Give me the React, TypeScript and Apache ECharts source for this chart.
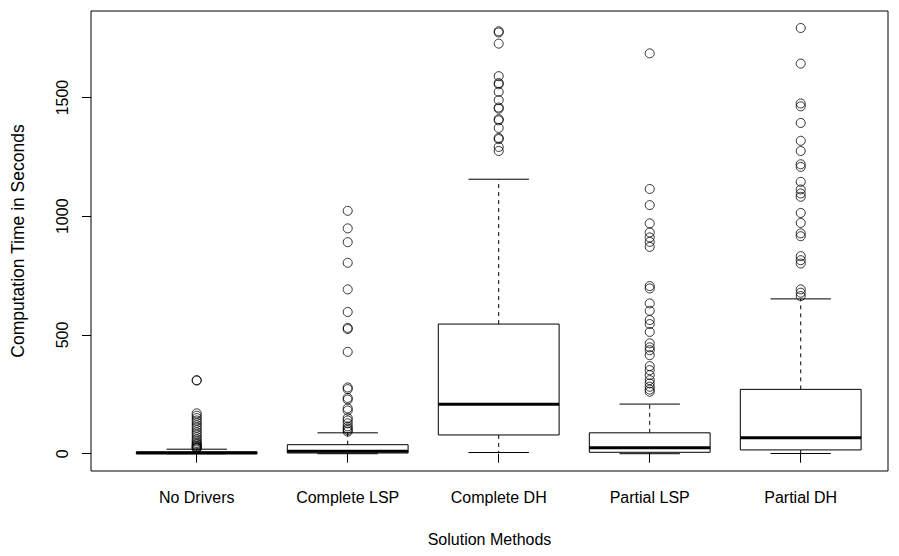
import React, { useEffect, useRef } from "react";
import * as echarts from "echarts";

const categories = ["No Drivers", "Complete LSP", "Complete DH", "Partial LSP", "Partial DH"];

// [lower whisker, Q1, median, Q3, upper whisker]
const boxStats = [
  [0, 1, 3, 8, 19],
  [0, 3, 10, 38, 88],
  [5, 79, 208, 546, 1156],
  [0, 6, 25, 88, 209],
  [1, 16, 67, 271, 652],
];

const outliersNoDrivers = [310, 308, 170, 160, 150, 140, 130, 120, 110, 100, 90, 80, 70, 60, 52, 45, 40, 35, 30, 27, 24, 22];
const outliersCompleteLSP = [1023, 949, 891, 804, 692, 597, 530, 525, 429, 279, 272, 235, 228, 191, 182, 150, 140, 128, 115, 107, 100, 93];
const outliersCompleteDH = [1779, 1774, 1727, 1590, 1561, 1556, 1524, 1489, 1458, 1453, 1409, 1404, 1372, 1330, 1325, 1292, 1275];
const outliersPartialLSP = [1686, 1115, 1047, 970, 932, 911, 892, 871, 706, 696, 633, 602, 563, 546, 513, 465, 448, 436, 415, 369, 352, 331, 310, 296, 282, 270, 261];
const outliersPartialDH = [1793, 1643, 1475, 1463, 1393, 1318, 1275, 1219, 1208, 1145, 1113, 1096, 1082, 1014, 972, 928, 916, 832, 815, 801, 692, 678, 664];

const yTicks = [0, 500, 1000, 1500];

const FONT = "'Liberation Sans', Arial, Helvetica, sans-serif";

export default function App() {
  const ref = useRef<HTMLDivElement>(null);

  useEffect(() => {
    document.body.style.margin = "0";
    if (!ref.current) return;
    const chart = echarts.init(ref.current, null, { renderer: "svg" });

    const outlierGroups = [outliersNoDrivers, outliersCompleteLSP, outliersCompleteDH, outliersPartialLSP, outliersPartialDH];
    const outlierData: number[][] = [];
    outlierGroups.forEach((g, i) => g.forEach((v) => outlierData.push([i + 1, v])));

    const boxData = boxStats.map((s, i) => [i + 1, ...s]);
    const catPos = categories.map((_, i) => i + 1);

    const option: any = {
      animation: false,
      backgroundColor: "#fff",
      textStyle: { fontFamily: FONT },
      grid: {
        left: 91,
        top: 11,
        width: 797,
        height: 460,
        show: true,
        borderColor: "#000",
        borderWidth: 1,
        backgroundColor: "transparent",
        containLabel: false,
      },
      xAxis: {
        type: "value",
        min: 0.3,
        max: 5.578,
        axisLine: { show: false },
        splitLine: { show: false },
        axisTick: { show: true, inside: false, length: 9, customValues: catPos, lineStyle: { color: "#000" } },
        axisLabel: {
          show: true,
          customValues: catPos,
          formatter: (v: number) => categories[Math.round(v) - 1] ?? "",
          color: "#000",
          fontSize: 16,
          fontFamily: FONT,
          margin: 18,
        },
        name: "Solution Methods",
        nameLocation: "middle",
        nameGap: 60,
        nameTextStyle: { color: "#000", fontSize: 16, fontFamily: FONT },
      },
      yAxis: {
        type: "value",
        min: -72.8,
        max: 1864.5,
        axisLine: { show: false },
        splitLine: { show: false },
        axisTick: { show: true, inside: false, length: 9, customValues: yTicks, lineStyle: { color: "#000" } },
        axisLabel: {
          show: true,
          customValues: yTicks,
          formatter: (v: number) => String(v),
          rotate: 90,
          color: "#000",
          fontSize: 16,
          fontFamily: FONT,
          margin: 21,
        },
        name: "Computation Time in Seconds",
        nameLocation: "middle",
        nameGap: 64,
        nameTextStyle: { color: "#000", fontSize: 17.5, fontFamily: FONT },
      },
      series: [
        {
          type: "custom",
          data: boxData,
          encode: { x: 0, y: [1, 2, 3, 4, 5] },
          renderItem: (params: any, api: any) => {
            const x = api.value(0);
            const lo = api.value(1);
            const q1 = api.value(2);
            const med = api.value(3);
            const q3 = api.value(4);
            const hi = api.value(5);
            const halfBox = api.size([0.8, 0])[0] / 2;
            const halfStaple = halfBox / 2;
            const pLo = api.coord([x, lo]);
            const pQ1 = api.coord([x, q1]);
            const pMed = api.coord([x, med]);
            const pQ3 = api.coord([x, q3]);
            const pHi = api.coord([x, hi]);
            const cx = pMed[0];
            const dashStyle = { stroke: "#000", lineWidth: 1, lineDash: [4, 4] };
            const solid = { stroke: "#000", lineWidth: 1 };
            return {
              type: "group",
              children: [
                { type: "line", shape: { x1: cx, y1: pQ3[1], x2: cx, y2: pHi[1] }, style: dashStyle },
                { type: "line", shape: { x1: cx, y1: pQ1[1], x2: cx, y2: pLo[1] }, style: dashStyle },
                { type: "line", shape: { x1: cx - halfStaple, y1: pHi[1], x2: cx + halfStaple, y2: pHi[1] }, style: solid },
                { type: "line", shape: { x1: cx - halfStaple, y1: pLo[1], x2: cx + halfStaple, y2: pLo[1] }, style: solid },
                {
                  type: "rect",
                  shape: { x: cx - halfBox, y: pQ3[1], width: halfBox * 2, height: pQ1[1] - pQ3[1] },
                  style: { fill: "#fff", stroke: "#000", lineWidth: 1 },
                },
                { type: "line", shape: { x1: cx - halfBox, y1: pMed[1], x2: cx + halfBox, y2: pMed[1] }, style: { stroke: "#000", lineWidth: 3 } },
              ],
            };
          },
          z: 2,
        },
        {
          type: "scatter",
          data: outlierData,
          symbol: "circle",
          symbolSize: 9,
          itemStyle: { color: "rgba(0,0,0,0)", borderColor: "#000", borderWidth: 1 },
          z: 3,
        },
      ],
    };

    chart.setOption(option);
    return () => chart.dispose();
  }, []);

  return <div ref={ref} style={{ width: 899, height: 556 }} />;
}
